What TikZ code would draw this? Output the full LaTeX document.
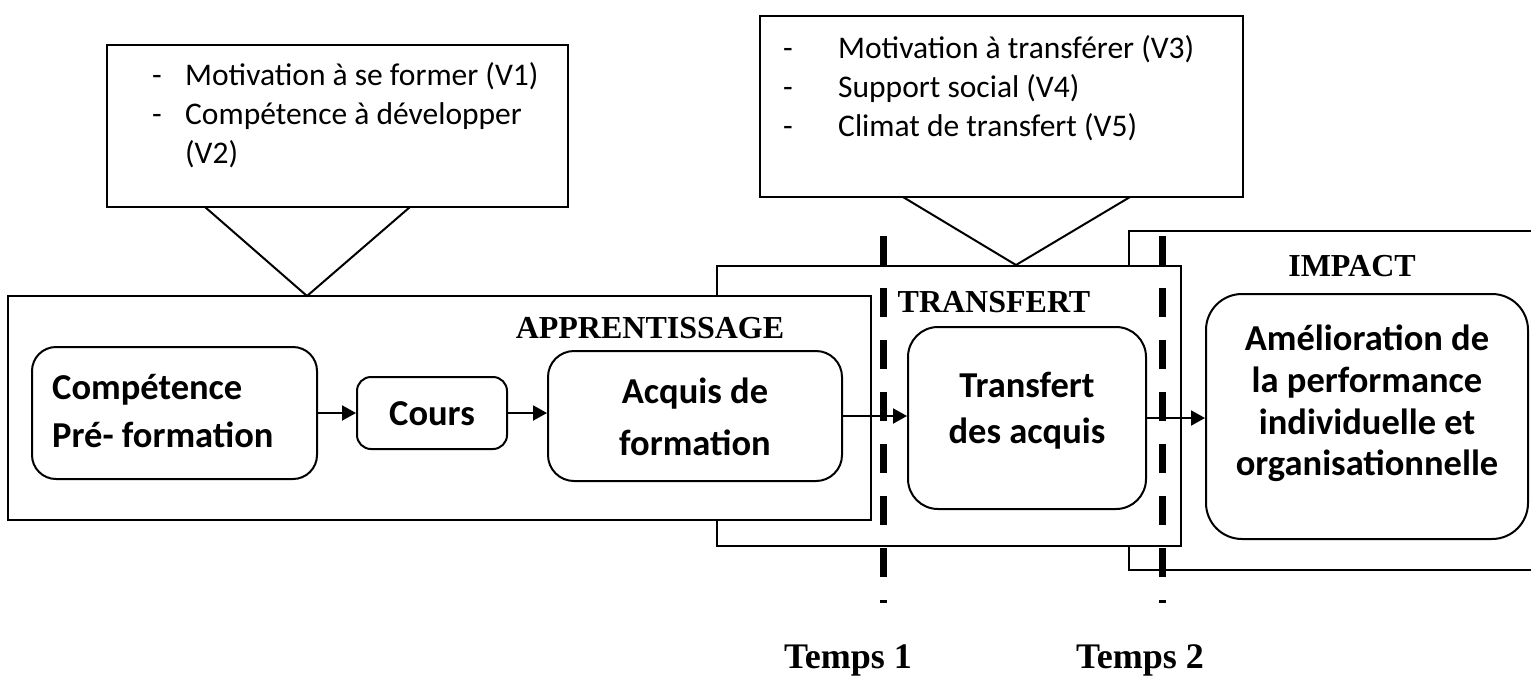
\documentclass[tikz,border=0pt]{standalone}
\usepackage{fontspec}
\setmainfont{Carlito}
\newfontfamily\titlefont{Liberation Serif}
\usetikzlibrary{arrows.meta}

\begin{document}
\begin{tikzpicture}[x=1pt,y=-1pt,
  frame/.style={draw=black, line width=2pt, fill=white, inner sep=0pt},
  stage/.style={draw=black, line width=2pt, fill=white, inner sep=0pt, rounded corners=#1},
  stage/.default=26pt,
  flow/.style={line width=2pt, -{Triangle[length=14pt,width=15pt]}},
  timeline/.style={line width=7pt, dash pattern=on 29pt off 23pt},
  edge/.style={line width=2pt},
  note/.style={font=\fontsize{31.5}{38}\selectfont, anchor=base west, inner sep=0pt},
  caption/.style={font=\fontsize{36.5}{44}\selectfont\bfseries, anchor=base, inner sep=0pt},
  heading/.style={font=\titlefont\fontsize{32}{38}\selectfont\bfseries, anchor=base, inner sep=0pt},
  timelabel/.style={font=\titlefont\fontsize{36}{42}\selectfont\bfseries, anchor=base, inner sep=0pt}]

\useasboundingbox (0,0) rectangle (1531,675);

% phase frames, back to front
\node[frame, minimum width=431pt, minimum height=339pt] (impact) at (1344.5,400.5) {};
\node[frame, minimum width=464pt, minimum height=280pt] (transfert) at (949,406) {};
\node[frame, minimum width=863pt, minimum height=224pt] (appr) at (439.5,408) {};

% callouts with their pointers
\node[frame, minimum width=461pt, minimum height=162pt] (noteA) at (337.5,126) {};
\node[frame, minimum width=483pt, minimum height=181pt] (noteB) at (1001.5,106.5) {};
\coordinate (tipA) at (307,296);
\coordinate (tipB) at (1016,265);
\draw[edge] (205,207) -- (tipA) -- (410,207);
\draw[edge] (903,197) -- (tipB) -- (1130,197);

% process steps
\node[stage=24pt, minimum width=285pt, minimum height=132pt] (comp) at (174.5,413) {};
\node[stage=14pt, minimum width=150pt, minimum height=72pt] (cours) at (432,413) {};
\node[stage=26pt, minimum width=294pt, minimum height=130pt] (acq) at (695,416) {};
\node[stage=30pt, minimum width=238pt, minimum height=182pt] (trans) at (1027,418) {};
\node[stage=36pt, minimum width=322pt, minimum height=245pt] (amel) at (1367,416.5) {};

% flow arrows
\draw[flow] (comp.east) -- (comp.east -| cours.west);
\draw[flow] (cours.east) -- (cours.east -| acq.west);
\draw[flow] (acq.east) -- (acq.east -| trans.west);
\draw[flow] (trans.east) -- (trans.east -| amel.west);

% callout texts
\node[note] (dA1) at (152,85) {-};
\node[note] (tA1) at (185,85) {Motivation à se former (V1)};
\node[note] (dA2) at (152,124) {-};
\node[note] (tA2) at (185,124) {Compétence à développer};
\node[note] (tA3) at (185,163) {(V2)};
\node[note] (dB1) at (783,58) {-};
\node[note] (tB1) at (838,58) {Motivation à transférer (V3)};
\node[note] (dB2) at (783,97) {-};
\node[note] (tB2) at (838,97) {Support social (V4)};
\node[note] (dB3) at (783,136) {-};
\node[note] (tB3) at (838,136) {Climat de transfert (V5)};

% step texts
\node[caption, anchor=base west] (c1) at (52,399) {Compétence};
\node[caption, anchor=base west] (c2) at (52,447) {Pré- formation};
\node[caption] (c3) at (432,425) {Cours};
\node[caption] (c4) at (695,403) {Acquis de};
\node[caption] (c5) at (695,455) {formation};
\node[caption] (c6) at (1027,397) {Transfert};
\node[caption] (c7) at (1027,443) {des acquis};
\node[caption] (c8) at (1367,350) {Amélioration de};
\node[caption] (c9) at (1367,392) {la performance};
\node[caption] (c10) at (1367,434) {individuelle et};
\node[caption] (c11) at (1367,475) {organisationnelle};

% phase headings
\node[heading] (hA) at (650,338) {APPRENTISSAGE};
\node[heading] (hT) at (994,312) {TRANSFERT};
\node[heading] (hI) at (1352,276) {IMPACT};

% time markers
\coordinate (t1top) at (883,236);
\coordinate (t1bot) at (883,603);
\coordinate (t2top) at (1162,236);
\coordinate (t2bot) at (1162,603);
\draw[timeline] (t1top) -- (t1bot);
\draw[timeline] (t2top) -- (t2bot);
\node[timelabel] (time1) at (848,668) {Temps 1};
\node[timelabel] (time2) at (1140,668) {Temps 2};
\end{tikzpicture}
\end{document}
